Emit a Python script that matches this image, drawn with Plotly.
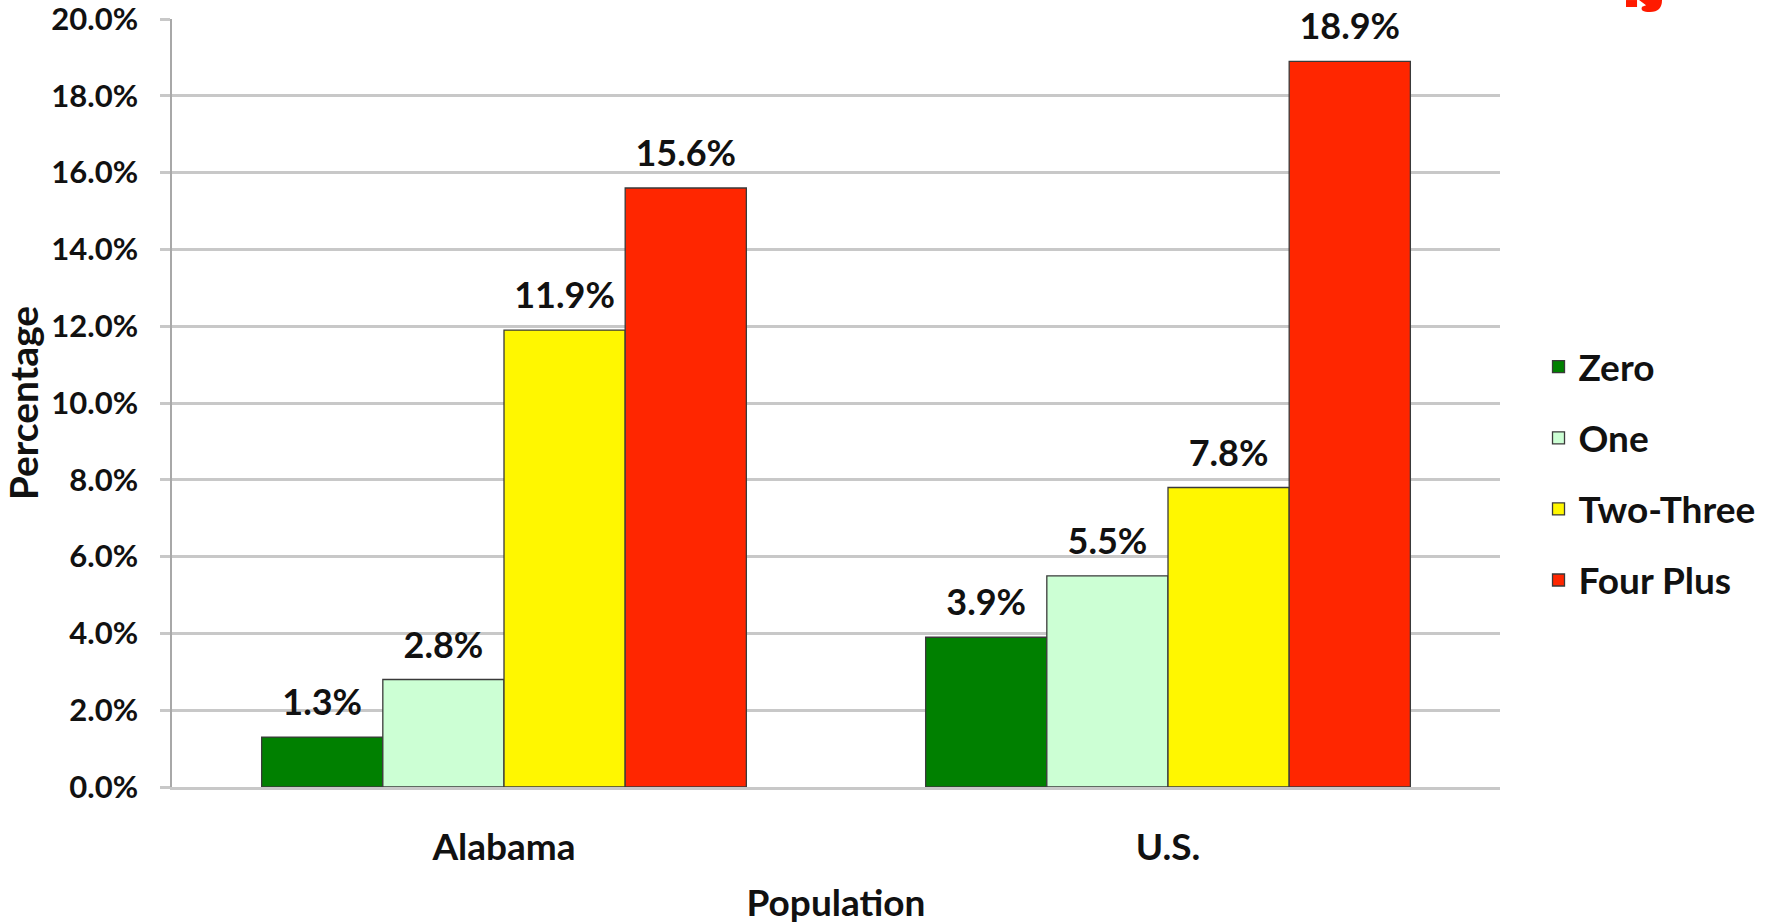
import plotly.graph_objects as go

categories = ["Alabama", "U.S."]
series_names = ["Zero", "One", "Two-Three", "Four Plus"]
zero_vals = [1.3, 3.9]
one_vals = [2.8, 5.5]
two_three_vals = [11.9, 7.8]
four_plus_vals = [15.6, 18.9]
y_ticks = [0, 2, 4, 6, 8, 10, 12, 14, 16, 18, 20]

colors = ["#008000", "#CCFFD4", "#FFF700", "#FF2600"]
series_vals = [zero_vals, one_vals, two_three_vals, four_plus_vals]

FONT = "Lato"
fig = go.Figure()
for i, (name, vals, col) in enumerate(zip(series_names, series_vals, colors)):
    fig.add_trace(go.Bar(
        x=categories, y=vals, name=name,
        marker=dict(color=col, line=dict(color="#3A3A3A", width=1.3)),
        offsetgroup=str(i), legendgroup=name,
    ))
for i, (name, vals) in enumerate(zip(series_names, series_vals)):
    fig.add_trace(go.Scatter(
        x=categories, y=vals, mode="markers+text",
        marker=dict(size=19, opacity=0),
        text=[f"{v:.1f}%" for v in vals], textposition="top center",
        textfont=dict(family=FONT, size=36, color="#111111", weight="bold"),
        cliponaxis=False, showlegend=False, hoverinfo="skip",
        offsetgroup=str(i),
    ))

fig.update_layout(
    width=1771, height=924,
    margin=dict(l=172, r=271, t=19, b=137, autoexpand=False),
    paper_bgcolor="white", plot_bgcolor="white",
    barmode="group", bargap=0.27, bargroupgap=0,
    scattermode="group", scattergap=0.27,
    font=dict(family=FONT, color="#111111"),
    legend=dict(
        x=1.029, y=0.408, xanchor="left", yanchor="middle",
        font=dict(family=FONT, size=37, color="#111111", weight="bold"),
        tracegroupgap=20, itemwidth=30,
        bgcolor="rgba(0,0,0,0)",
    ),
    showlegend=True,
    shapes=[
        dict(type="path", xref="paper", yref="paper",
             path="M 1.0949,1.0247 L 1.1032,1.0247 L 1.1032,1.0156 L 1.0949,1.0156 Z",
             fillcolor="#FF1A00", line=dict(width=0)),
        dict(type="path", xref="paper", yref="paper",
             path="M 1.1047,1.0247 L 1.1220,1.0247 Q 1.1220,1.0090 1.1130,1.0090 "
                  "Q 1.1050,1.0090 1.1070,1.0160 L 1.1100,1.0180 L 1.1047,1.0247 Z",
             fillcolor="#FF1A00", line=dict(width=0)),
    ],
)
fig.update_yaxes(
    range=[0, 20.001], tickvals=y_ticks,
    ticktext=[f"{v:.1f}%" for v in y_ticks],
    ticklabeloverflow="allow",
    showgrid=True, gridcolor="#C8C8C8", gridwidth=2.5,
    ticks="outside", ticklen=10, tickcolor="#C8C8C8", tickwidth=2.5,
    ticklabelstandoff=16,
    tickfont=dict(family=FONT, size=31, color="#111111", weight="bold"),
    showline=True, linecolor="#A8A8A8", linewidth=1.5,
    zeroline=False,
    title=dict(text="Percentage", standoff=10,
               font=dict(family=FONT, size=39, color="#111111", weight="bold")),
)
fig.update_xaxes(
    showline=True, linecolor="#C8C8C8", linewidth=2.5,
    ticks="", ticklabelstandoff=26,
    tickfont=dict(family=FONT, size=37, color="#111111", weight="bold"),
    title=dict(text="Population", standoff=26,
               font=dict(family=FONT, size=37, color="#111111", weight="bold")),
)

fig.write_html("out.html")
